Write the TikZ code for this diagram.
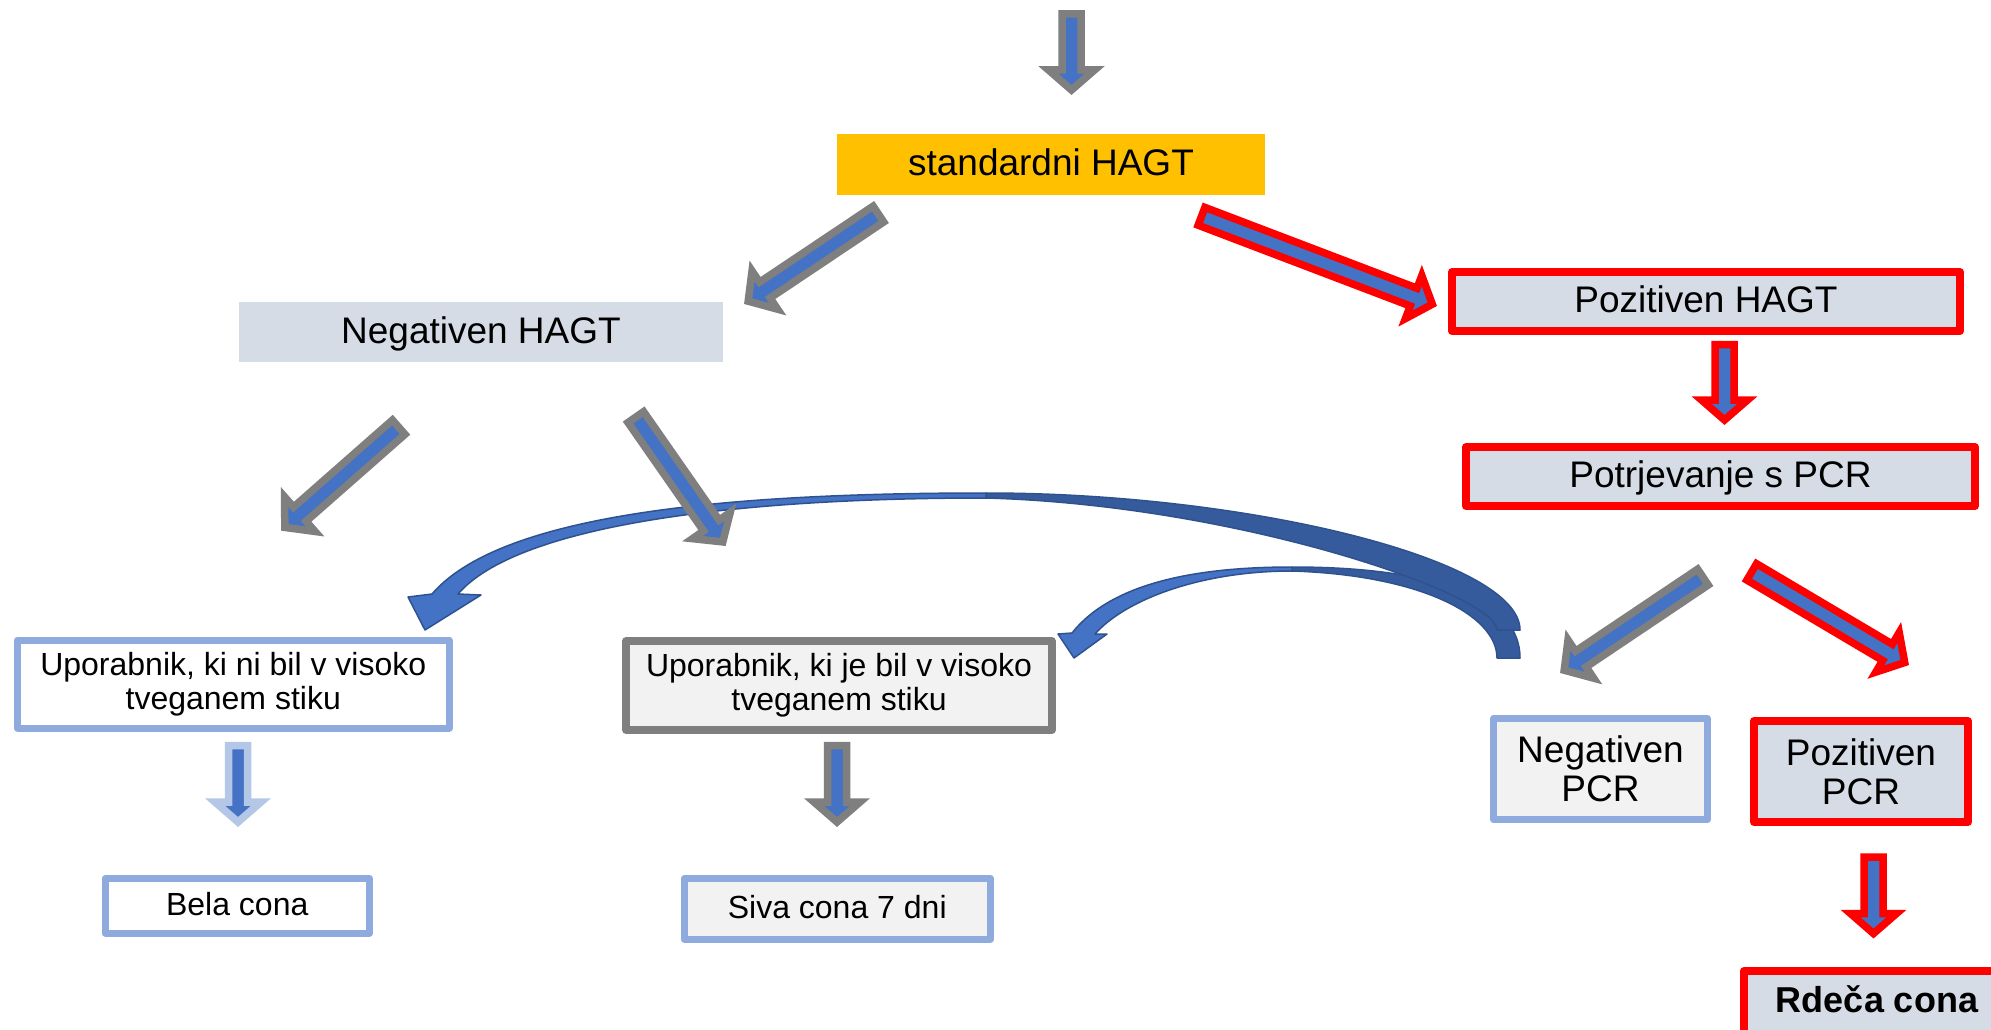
\documentclass[tikz,border=0pt]{standalone}
\usepackage{fontspec}
\setmainfont{Liberation Sans}
\usetikzlibrary{calc}
\definecolor{ablue}{HTML}{4472C4}
\definecolor{ablueD}{HTML}{2F528F}
\definecolor{ablueB}{HTML}{365B9D}
\definecolor{agray}{HTML}{7F7F7F}
\definecolor{ared}{HTML}{FF0000}
\definecolor{lblue}{HTML}{8FAADC}
\definecolor{llblue}{HTML}{B4C7E7}
\definecolor{boxblue}{HTML}{D6DCE5}
\definecolor{boxgray}{HTML}{F2F2F2}
\definecolor{ayellow}{HTML}{FFC000}
\newcommand{\blockarrow}[3]{%
  \coordinate (bh) at ($(#3)!20pt!(#2)$);
  \filldraw[fill=ablue, draw=#1, line width=7.5pt, line join=miter]
    ($(#2)!9.5pt!90:(#3)$) -- ($(bh)!9.5pt!90:(#3)$) -- ($(bh)!23pt!90:(#3)$) -- (#3)
    -- ($(bh)!23pt!-90:(#3)$) -- ($(bh)!9.5pt!-90:(#3)$) -- ($(#2)!9.5pt!-90:(#3)$) -- cycle;
}
\tikzset{
  boxbase/.style={inner sep=0pt, outer sep=0pt, align=center, line join=round},
  one37/.style={boxbase, font=\fontsize{37}{39}\selectfont, text height=26.6pt, text depth=3.7pt},
  multi37/.style={boxbase, font=\fontsize{37}{39}\selectfont},
  one32/.style={boxbase, font=\fontsize{32}{34}\selectfont, text height=23pt, text depth=3.2pt},
  multi32/.style={boxbase, font=\fontsize{32}{34}\selectfont},
  curveback/.style={fill=ablueB, draw=ablueD, line width=1.5pt, line join=round},
  curvefront/.style={fill=ablue, draw=ablueD, line width=1.5pt, line join=round}
}
\begin{document}
\begin{tikzpicture}[x=1pt,y=-1pt]
\useasboundingbox (0,0) rectangle (1991,1030);
\fill[white] (0,0) rectangle (1991,1030);

% small curved arrow: back part, then front part with head
\coordinate (s-top) at (1292,567);
\coordinate (s-topi) at (1292,571);
\coordinate (s-tailo) at (1520,658);
\coordinate (s-taili) at (1497,658);
\filldraw[curveback]
  (s-top) .. controls (1440,567) and (1520,600) .. (s-tailo)
  -- (s-taili) .. controls (1497,615) and (1420,575) .. (s-topi) -- cycle;
\filldraw[curvefront]
  (s-top) .. controls (1190,567) and (1110,585) .. (1072,633)
  -- (1058,634) -- (1074,658) -- (1107,634) -- (1095,634)
  .. controls (1125,600) and (1200,571) .. (s-topi) -- cycle;

% big curved arrow: back part, then front part with head
\coordinate (b-top) at (986,493);
\coordinate (b-topi) at (986,498);
\coordinate (b-tailo) at (1520,630);
\coordinate (b-taili) at (1497,630);
\filldraw[curveback]
  (b-top) .. controls (1250,493) and (1520,560) .. (b-tailo)
  -- (b-taili) .. controls (1497,595) and (1240,505) .. (b-topi) -- cycle;
\filldraw[curvefront]
  (b-top) .. controls (720,493) and (500,515) .. (432,594)
  -- (408,597) -- (425,630) -- (481,595) -- (458,594)
  .. controls (515,528) and (720,498) .. (b-topi) -- cycle;

% boxes
\node[one37, fill=ayellow, minimum width=428pt, minimum height=61pt] (std) at (1051,164.5) {standardni HAGT};
\node[one37, fill=boxblue, minimum width=484pt, minimum height=60pt] (neghagt) at (481,332) {Negativen HAGT};
\node[one37, fill=boxblue, draw=ared, line width=8pt, minimum width=508pt, minimum height=59pt] (poshagt) at (1706,301.5) {Pozitiven HAGT};
\node[one37, fill=boxblue, draw=ared, line width=8pt, minimum width=509pt, minimum height=59pt] (potrj) at (1720.5,476.5) {Potrjevanje s PCR};
\node[multi37, fill=boxgray, draw=lblue, line width=7pt, minimum width=214pt, minimum height=101pt] (negpcr) at (1600.5,769) {Negativen\\PCR};
\node[multi37, fill=boxblue, draw=ared, line width=8pt, minimum width=214pt, minimum height=101pt] (pospcr) at (1861,771.5) {Pozitiven\\PCR};
\node[boxbase, font=\fontsize{36}{38}\selectfont\bfseries, text height=26pt, text depth=24pt, fill=boxblue, draw=ared, line width=8pt, minimum width=266pt, minimum height=80pt] (rdeca) at (1877,1011) {Rdeča cona};
\node[multi32, fill=white, draw=lblue, line width=7pt, minimum width=431.5pt, minimum height=88pt] (nibil) at (233.25,684) {Uporabnik, ki ni bil v visoko\\tveganem stiku};
\node[multi32, fill=boxgray, draw=agray, line width=7.5pt, minimum width=426pt, minimum height=89pt] (jebil) at (839,685.5) {Uporabnik, ki je bil v visoko\\tveganem stiku};
\node[one32, fill=white, draw=lblue, line width=7pt, minimum width=264.5pt, minimum height=54.5pt] (bela) at (237.25,905.75) {Bela cona};
\node[one32, fill=boxgray, draw=lblue, line width=7pt, minimum width=306.5pt, minimum height=60.5pt] (siva) at (837.25,908.75) {Siva cona 7 dni};

% block arrows
\coordinate (a1s) at (1071.5,14);   \coordinate (a1e) at (1071.5,90);
\coordinate (a2s) at (878.4,214.1); \coordinate (a2e) at (748.2,301.2);
\coordinate (a3s) at (398.7,427.2); \coordinate (a3e) at (284.8,527.4);
\coordinate (a4s) at (635.8,417.1); \coordinate (a4e) at (722.8,541.9);
\coordinate (a5s) at (1201.5,216.3); \coordinate (a5e) at (1432.3,304.2);
\coordinate (a6s) at (1724.5,344.5); \coordinate (a6e) at (1724.5,420);
\coordinate (a7s) at (1702.9,577.1); \coordinate (a7e) at (1564.2,670.2);
\coordinate (a8s) at (1751.7,571.9); \coordinate (a8e) at (1904.7,662.5);
\coordinate (a9s) at (1873.5,857);  \coordinate (a9e) at (1873.5,933.5);
\coordinate (a10s) at (238,745.5);  \coordinate (a10e) at (238,822);
\coordinate (a11s) at (837,745.5);  \coordinate (a11e) at (837,822);
\blockarrow{agray}{a1s}{a1e}
\blockarrow{agray}{a2s}{a2e}
\blockarrow{agray}{a3s}{a3e}
\blockarrow{agray}{a4s}{a4e}
\blockarrow{ared}{a5s}{a5e}
\blockarrow{ared}{a6s}{a6e}
\blockarrow{agray}{a7s}{a7e}
\blockarrow{ared}{a8s}{a8e}
\blockarrow{ared}{a9s}{a9e}
\blockarrow{llblue}{a10s}{a10e}
\blockarrow{agray}{a11s}{a11e}
\end{tikzpicture}
\end{document}
